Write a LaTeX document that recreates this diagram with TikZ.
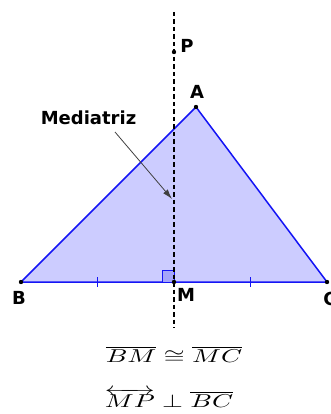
\documentclass[tikz,border=0pt]{standalone}
\usepackage{amsmath}
\usepackage{fontspec}
\usepackage{xcolor}
\usepackage{tikz}
\usetikzlibrary{arrows.meta,calc,backgrounds}
\newfontfamily\lblfont{DejaVu Sans}
\definecolor{triblue}{RGB}{20,20,245}
\definecolor{trifill}{RGB}{204,204,255}
\definecolor{sqfill}{RGB}{165,165,250}

\begin{document}
\begin{tikzpicture}[x=1pt, y=-1pt,
    font=\lblfont\bfseries\fontsize{18}{20}\selectfont,
    dot/.style={circle, fill=black, inner sep=0pt, minimum size=4.4pt},
    lbl/.style={inner sep=0pt},
    eqn/.style={inner sep=0pt, font=\normalfont}]
        \useasboundingbox (0,0) rectangle (330,414);
        % points of the triangle and the bisector
        \node[dot] (B) at (21,282) {};
        \node[dot] (C) at (327,282) {};
        \node[dot] (A) at (196,107) {};
        \node[dot] (M) at (174,282) {};
        \node[dot] (P) at (174,52) {};
        \coordinate (mtop) at (174,12);
        \coordinate (mbot) at (174,328);
        \begin{scope}[on background layer]
          \draw[triblue, line width=1.5pt, fill=trifill, line join=round] (B.center) -- (A.center) -- (C.center) -- cycle;
          \draw[triblue, line width=0.8pt, fill=sqfill] ($(M.center)+(-12,0)$) rectangle ($(M.center)+(0,-12)$);
          \draw[dash pattern=on 4.5pt off 3pt, line width=1.4pt] (mtop) -- (mbot);
        \end{scope}
        % equal marks
        \draw[triblue, line width=1.2pt] ($(B)!.5!(M)+(0,-5)$) -- ($(B)!.5!(M)+(0,5)$);
        \draw[triblue, line width=1.2pt] ($(M)!.5!(C)+(0,-5)$) -- ($(M)!.5!(C)+(0,5)$);
        % labels
        \node[lbl] (lP) at (187,46) {P};
        \node[lbl] (lA) at (197,92) {A};
        \node[lbl] (lB) at (19,298) {B};
        \node[lbl] (lM) at (186,295) {M};
        \node[lbl] (lC) at (330,299) {C};
        \node[lbl] (med) at (88.5,118) {Mediatriz};
        \coordinate (tail) at (115,132);
        \coordinate (tip) at (172,199);
        \draw[-{Latex[length=10pt,width=6pt]}, line width=0.8pt, black!75] (tail) -- (tip);
        % relations
        \node[eqn] (eq1) at (174,355) {\scalebox{2.68}[1.86]{$\overline{BM}\cong\overline{MC}$}};
        \node[eqn] (eq2) at (169,398) {\scalebox{2.68}[1.86]{$\overleftrightarrow{MP}\perp\overline{BC}$}};
      \end{tikzpicture}
\end{document}
